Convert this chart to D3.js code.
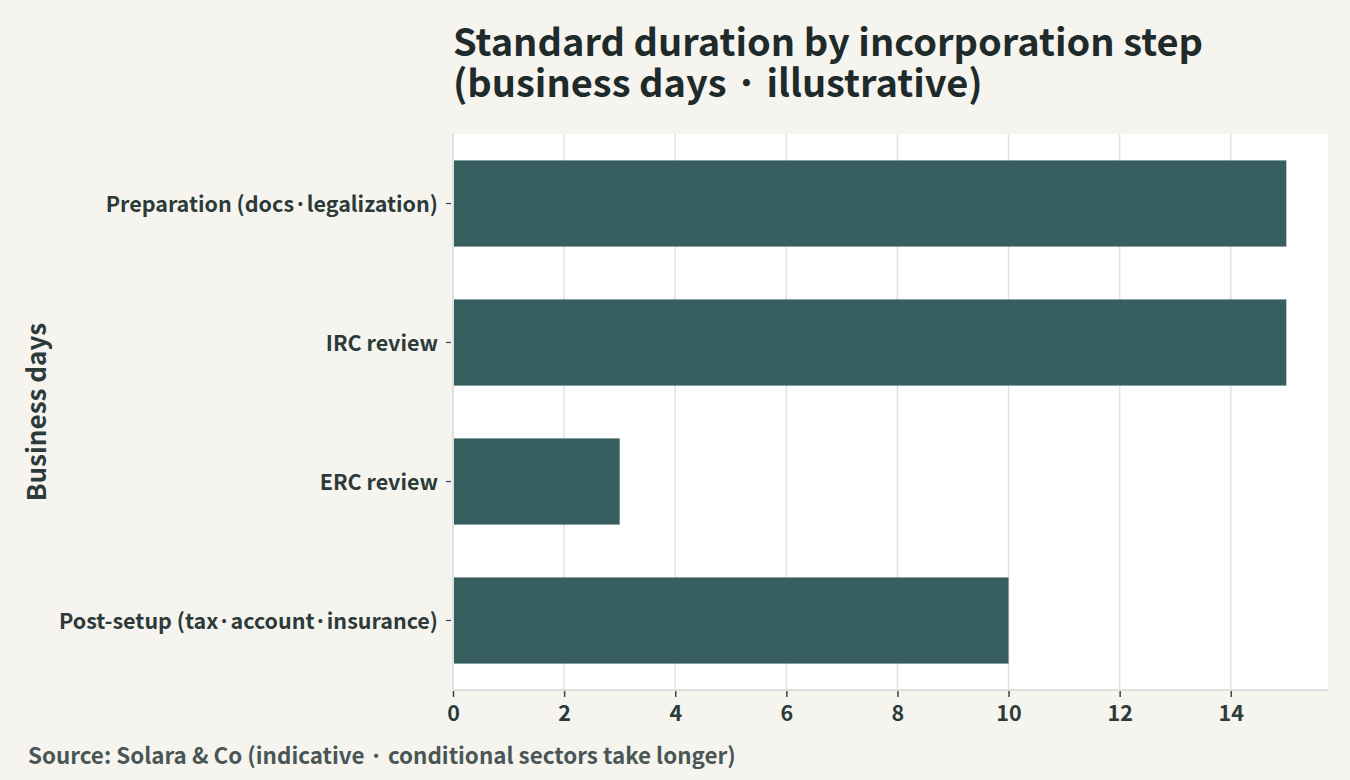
<!DOCTYPE html>
<html>
<head>
<meta charset="utf-8">
<script src="https://cdn.jsdelivr.net/npm/d3@7"></script>
<style>
  body { margin: 0; background: #f5f4ef; }
  svg { display: block; font-family: "Noto Sans CJK KR", "Noto Sans", sans-serif; }
</style>
</head>
<body>
<div id="chart"></div>
<script>
const steps = [
  'Preparation (docs·legalization)',
  'IRC review',
  'ERC review',
  'Post-setup (tax·account·insurance)'
];
const days = [15, 15, 3, 10];
const xTicks = [0, 2, 4, 6, 8, 10, 12, 14];

const FONT = '"Noto Sans CJK KR", "Noto Sans", sans-serif';
const W = 1350, H = 780;
const margin = { top: 134, right: 22, bottom: 90, left: 453 };
const width = W - margin.left - margin.right,
  height = H - margin.top - margin.bottom;

const svg = d3.select('#chart').append('svg')
  .attr('width', W).attr('height', H);

svg.append('rect').attr('width', W).attr('height', H).attr('fill', '#f5f4ef');

const g = svg.append('g')
  .attr('transform', 'translate(' + margin.left + ',' + margin.top + ')');

const x = d3.scaleLinear()
  .domain([0, d3.max(days) * 1.05])
  .range([0, width]);

const y = d3.scaleBand()
  .domain(steps)
  .range([0, height])
  .paddingInner(0.38)
  .paddingOuter(0.19);

// plot background
g.append('rect').attr('width', width).attr('height', height).attr('fill', '#ffffff');

// grid
g.selectAll('.grid').data(xTicks.slice(1)).enter().append('line')
  .attr('x1', d => x(d)).attr('x2', d => x(d))
  .attr('y1', 0).attr('y2', height)
  .attr('stroke', '#dfe4e3').attr('stroke-width', 1.5);

// bars
g.selectAll('.bar').data(steps).enter().append('rect')
  .attr('x', x(0) + 1)
  .attr('y', d => y(d))
  .attr('width', (d, i) => x(days[i]) - x(0) - 1)
  .attr('height', y.bandwidth())
  .attr('fill', '#385f5f');

// axis lines
g.append('line').attr('x1', 0).attr('x2', 0).attr('y1', -1).attr('y2', height)
  .attr('stroke', '#dce2e1').attr('stroke-width', 2);
g.append('line').attr('x1', 0).attr('x2', width).attr('y1', height).attr('y2', height)
  .attr('stroke', '#dce2e1').attr('stroke-width', 2);

// x axis
const xAxis = g.append('g')
  .attr('transform', 'translate(0,' + (height + 1) + ')')
  .call(d3.axisBottom(x).tickValues(xTicks).tickSize(6).tickPadding(9).tickFormat(d3.format('d')))
  .attr('font-family', FONT);
xAxis.select('.domain').remove();
xAxis.selectAll('line').attr('stroke', '#3a4646').attr('stroke-width', 1.5);
xAxis.selectAll('text')
  .attr('fill', '#2d3a3a')
  .style('font-size', '21.5px')
  .style('font-weight', 700);

// y axis
const yAxis = g.append('g')
  .attr('transform', 'translate(-2,0)')
  .call(d3.axisLeft(y).tickSize(5).tickPadding(8))
  .attr('font-family', FONT);
yAxis.select('.domain').remove();
yAxis.selectAll('line').attr('stroke', '#3a4646').attr('stroke-width', 1.2);
yAxis.selectAll('text')
  .attr('fill', '#2d3a3a')
  .attr('dy', '0.4em')
  .style('font-size', '21.5px')
  .style('font-weight', 700);

// y axis title
svg.append('text')
  .attr('transform', 'translate(46,' + (margin.top + height / 2) + ') rotate(-90)')
  .attr('text-anchor', 'middle')
  .attr('fill', '#2d3a3a')
  .style('font-size', '26px')
  .style('font-weight', 700)
  .text('Business days');

// title, two lines
const titleLines = ['Standard duration by incorporation step', '(business days · illustrative)'];
svg.selectAll('.title').data(titleLines).enter().append('text')
  .attr('x', margin.left)
  .attr('y', (d, i) => 56 + i * 41)
  .attr('fill', '#1f2b2b')
  .style('font-size', '38px')
  .style('font-weight', 700)
  .text(d => d);

// source
svg.append('text')
  .attr('x', 28).attr('y', 764)
  .attr('fill', '#4a5656')
  .style('font-size', '22.4px')
  .style('font-weight', 700)
  .text('Source: Solara & Co (indicative · conditional sectors take longer)');
</script>
</body>
</html>
